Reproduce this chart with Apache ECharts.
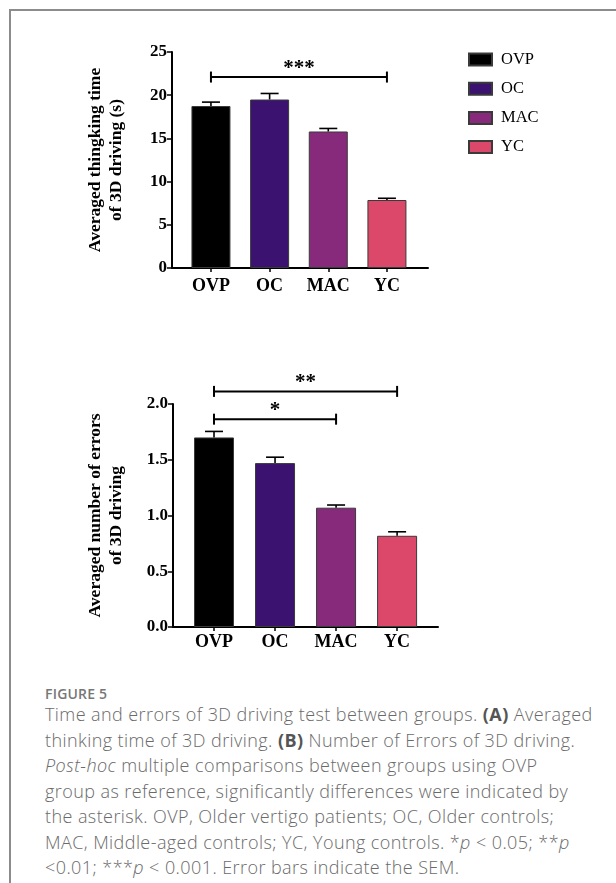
<!DOCTYPE html>
<html><head><meta charset="utf-8">
<script src="https://cdn.jsdelivr.net/npm/echarts@6/dist/echarts.min.js"></script>
<style>
html,body{margin:0;padding:0;background:#fff;width:616px;height:883px;overflow:hidden;}
#frame{position:absolute;left:9px;top:9px;width:640px;height:900px;border-left:2px solid #8c8c8c;border-top:2px solid #8c8c8c;}
#chart{position:absolute;left:0;top:0;width:616px;height:672px;}
#fig{position:absolute;left:45px;top:684px;font-family:"Open Sans",sans-serif;font-size:14px;font-weight:600;color:#777;letter-spacing:0.2px;}
#cap{position:absolute;left:45px;top:702px;width:570px;font-family:"Open Sans",sans-serif;font-size:18px;line-height:25.5px;color:#6a6a6a;white-space:nowrap;letter-spacing:0.42px;font-weight:300;}
#cap b{font-weight:700;color:#555;}
</style></head>
<body>
<div id="frame"></div>
<div id="chart"></div>
<div id="fig">FIGURE 5</div>
<div id="cap">Time and errors of 3D driving test between groups. <b>(A)</b> Averaged<br>thinking time of 3D driving. <b>(B)</b> Number of Errors of 3D driving.<br><i>Post-hoc</i> multiple comparisons between groups using OVP<br>group as reference, significantly differences were indicated by<br>the asterisk. OVP, Older vertigo patients; OC, Older controls;<br>MAC, Middle-aged controls; YC, Young controls. *<i>p</i> &lt; 0.05; **<i>p</i><br>&lt;0.01; ***<i>p</i> &lt; 0.001. Error bars indicate the SEM.</div>
<script>
var categories = ['OVP', 'OC', 'MAC', 'YC'];
var colors = ['#000000', '#3b1270', '#882a7c', '#dc486a'];
var timeMeans = [18.75, 19.5, 15.8, 7.87];
var timeUpper = [19.2, 20.2, 16.15, 8.07];
var errorMeans = [1.70, 1.47, 1.07, 0.818];
var errorUpper = [1.754, 1.523, 1.094, 0.854];
var timeTicks = [0, 5, 10, 15, 20, 25];
var errorTicks = [0, 0.5, 1.0, 1.5, 2.0];
var timeBrackets = [[0, 3, 22.1]];
var timeBracketLabels = ['***'];
var errorBrackets = [[0, 2, 1.864], [0, 3, 2.113]];
var errorBracketLabels = ['*', '**'];

var SERIF = '"Liberation Serif","Times New Roman",serif';
var chart = echarts.init(document.getElementById('chart'));

function errRender(params, api) {
  var x = api.value(0), v = api.value(1), e = api.value(2);
  var p0 = api.coord([x, v]), p1 = api.coord([x, e]);
  var w = 9;
  var st = {stroke: '#000', lineWidth: 1.6};
  return {type: 'group', children: [
    {type: 'line', shape: {x1: p0[0], y1: p0[1], x2: p1[0], y2: p1[1]}, style: st},
    {type: 'line', shape: {x1: p1[0] - w, y1: p1[1], x2: p1[0] + w, y2: p1[1]}, style: st}
  ]};
}
function bracketRender(labels) {
  return function (params, api) {
    var a = api.coord([api.value(0), api.value(2)]);
    var b = api.coord([api.value(1), api.value(2)]);
    var h = 5.5;
    var st = {stroke: '#000', lineWidth: 2};
    return {type: 'group', children: [
      {type: 'line', shape: {x1: a[0], y1: a[1], x2: b[0], y2: b[1]}, style: st},
      {type: 'line', shape: {x1: a[0], y1: a[1] - h, x2: a[0], y2: a[1] + h}, style: st},
      {type: 'line', shape: {x1: b[0], y1: b[1] - h, x2: b[0], y2: b[1] + h}, style: st},
      {type: 'text', x: (a[0] + b[0]) / 2, y: a[1] + 2, style: {text: labels[params.dataIndex], fontSize: 21, fontWeight: 'bold', fontFamily: SERIF, fill: '#000', align: 'center', verticalAlign: 'bottom'}}
    ]};
  };
}

function xAxisCfg(idx, min, max) {
  return {
    gridIndex: idx, type: 'value', min: min, max: max,
    axisLine: {show: true, onZero: false, lineStyle: {color: '#000', width: 2}},
    axisTick: {show: true, customValues: [0, 1, 2, 3], length: 4, lineStyle: {color: '#000', width: 1.5}},
    axisLabel: {customValues: [0, 1, 2, 3], formatter: function (v) { return categories[Math.round(v)]; },
      fontFamily: SERIF, fontWeight: 'bold', fontSize: 18, color: '#000', margin: idx === 0 ? 9 : 6},
    splitLine: {show: false}
  };
}
function yAxisCfg(idx, ticks, name, gap, dec) {
  return {
    gridIndex: idx, type: 'value', min: ticks[0], max: ticks[ticks.length - 1], interval: ticks[1] - ticks[0],
    name: name, nameLocation: 'middle', nameGap: gap,
    nameTextStyle: {fontFamily: SERIF, fontWeight: 'bold', fontSize: 17.5, color: '#000', lineHeight: 21},
    axisLine: {show: true, onZero: false, lineStyle: {color: '#000', width: 2}},
    axisTick: {show: true, length: 5, lineStyle: {color: '#000', width: 1.5}},
    axisLabel: {fontFamily: SERIF, fontWeight: 'bold', fontSize: 17, color: '#000', margin: 5,
      formatter: function (v) { return dec ? v.toFixed(1) : String(v); }},
    splitLine: {show: false}
  };
}

var series = [];
categories.forEach(function (c, i) {
  series.push({name: c, type: 'bar', xAxisIndex: 0, yAxisIndex: 0, barWidth: 39, barGap: '-100%',
    data: [[i, timeMeans[i]]], itemStyle: {color: colors[i], borderColor: '#3a3a3a', borderWidth: 1}, z: 2});
});
categories.forEach(function (c, i) {
  series.push({name: c, type: 'bar', xAxisIndex: 1, yAxisIndex: 1, barWidth: 40, barGap: '-100%',
    data: [[i, errorMeans[i]]], itemStyle: {color: colors[i], borderColor: '#3a3a3a', borderWidth: 1}, z: 2});
});
series.push({type: 'custom', xAxisIndex: 0, yAxisIndex: 0, renderItem: errRender, z: 3,
  data: categories.map(function (c, i) { return [i, timeMeans[i], timeUpper[i]]; })});
series.push({type: 'custom', xAxisIndex: 1, yAxisIndex: 1, renderItem: errRender, z: 3,
  data: categories.map(function (c, i) { return [i, errorMeans[i], errorUpper[i]]; })});
series.push({type: 'custom', xAxisIndex: 0, yAxisIndex: 0, renderItem: bracketRender(timeBracketLabels), clip: false, z: 3,
  data: timeBrackets});
series.push({type: 'custom', xAxisIndex: 1, yAxisIndex: 1, renderItem: bracketRender(errorBracketLabels), clip: false, z: 3,
  data: errorBrackets});

chart.setOption({
  animation: false,
  backgroundColor: 'transparent',
  grid: [
    {left: 172, top: 52, width: 256, height: 216},
    {left: 173, top: 404, width: 265, height: 223}
  ],
  legend: {
    data: categories, orient: 'vertical', left: 463, top: 46, icon: 'rect',
    itemWidth: 23, itemHeight: 12, itemGap: 12.2,
    textStyle: {fontFamily: SERIF, fontSize: 16.5, color: '#000', padding: [0, 0, 0, 4]},
    selectedMode: false
  },
  xAxis: [xAxisCfg(0, -0.664, 3.70), xAxisCfg(1, -0.672, 3.67)],
  yAxis: [
    yAxisCfg(0, timeTicks, 'Averaged thingking time\nof 3D driving (s)', 45, false),
    yAxisCfg(1, errorTicks, 'Averaged number of errors\nof 3D driving', 46, true)
  ],
  series: series
});
</script>
</body></html>
